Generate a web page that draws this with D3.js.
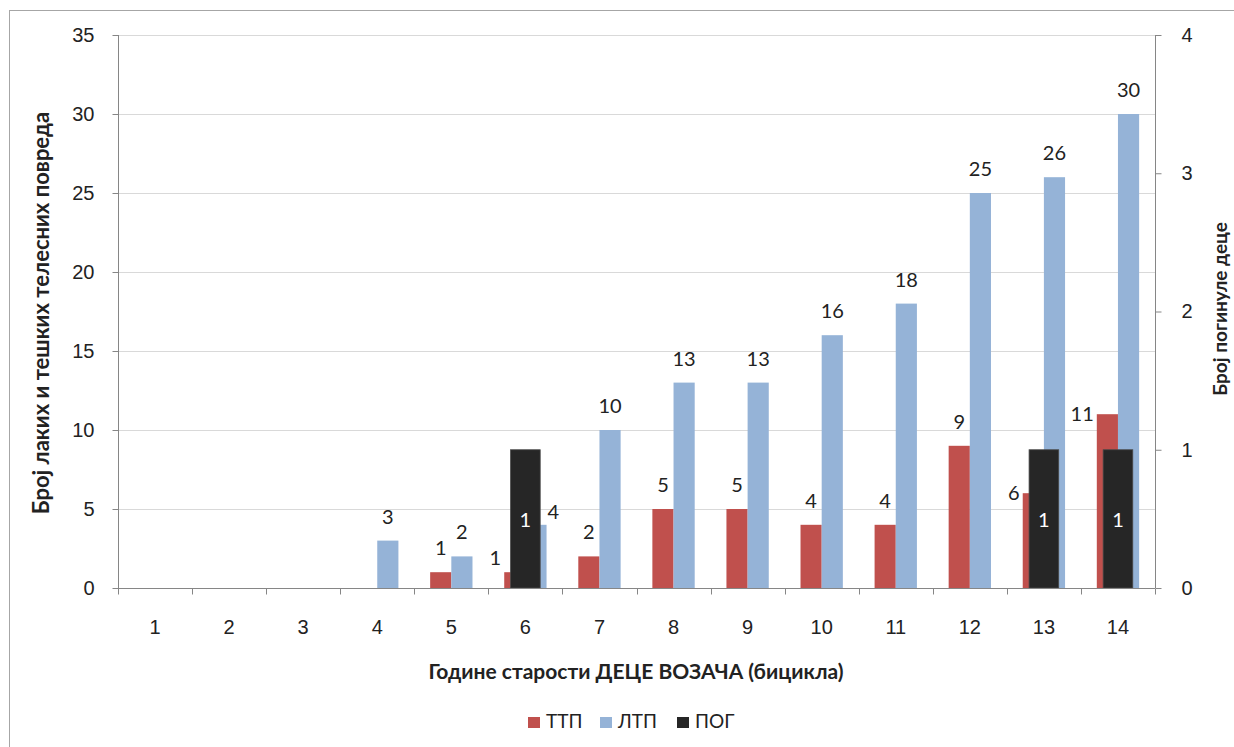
<!DOCTYPE html>
<html>
<head>
<meta charset="utf-8">
<script src="https://cdnjs.cloudflare.com/ajax/libs/d3/7.8.5/d3.min.js"></script>
<style>
  html, body { margin: 0; padding: 0; background: #fff; }
  svg { display: block; font-family: Lato, "Open Sans", "Liberation Sans", sans-serif; }
</style>
</head>
<body>
<svg id="chart" width="1234" height="747"></svg>
<script>
// Ages of child cyclists (x categories)
const ages = ["1","2","3","4","5","6","7","8","9","10","11","12","13","14"];
// ТТП – serious bodily injuries (primary axis)
const ttp = [0,0,0,0,1,1,2,5,5,4,4,9,6,11];
// ЛТП – light bodily injuries (primary axis)
const ltp = [0,0,0,3,2,4,10,13,13,16,18,25,26,30];
// ПОГ – killed children (secondary axis)
const pog = [0,0,0,0,0,1,0,0,0,0,0,0,1,1];
const leftTicks = [0,5,10,15,20,25,30,35];
const rightTicks = [0,1,2,3,4];

const colTTP = "#C0504D", colLTP = "#95B3D7", colPOG = "#262626";
const textCol = "#222222", axisCol = "#868686", gridCol = "#D9D9D9";
const numSize = 20;

const svg = d3.select("#chart");
const pLeft = 118, pRight = 1155, pTop = 35, pBottom = 588;

// chart frame
svg.append("rect").attr("x", 9.5).attr("y", 10.5).attr("width", 1240).attr("height", 750)
  .attr("fill", "#fff").attr("stroke", "#A6A6A6").attr("stroke-width", 1);

const x = d3.scaleBand().domain(ages).range([pLeft, pRight]).paddingInner(0).paddingOuter(0);
const yL = d3.scaleLinear().domain([0, 35]).range([pBottom, pTop]);
const yR = d3.scaleLinear().domain([0, 4]).range([pBottom, pTop]);

const band = x.bandwidth();
const pw = band / 3.5;      // primary bar width (gap 150%)
const sw = band / 2.5;      // secondary bar width

// gridlines
svg.append("g").selectAll("line").data(leftTicks.filter(d => d > 0)).join("line")
  .attr("x1", pLeft).attr("x2", pRight)
  .attr("y1", d => Math.round(yL(d)) + 0.5).attr("y2", d => Math.round(yL(d)) + 0.5)
  .attr("stroke", gridCol);

// primary bars
const g1 = svg.append("g");
g1.selectAll("rect.ttp").data(ages).join("rect").attr("class", "ttp")
  .attr("x", d => x(d) + band / 2 - pw).attr("width", pw)
  .attr("y", (d, i) => yL(ttp[i])).attr("height", (d, i) => pBottom - yL(ttp[i]))
  .attr("fill", colTTP);
g1.selectAll("rect.ltp").data(ages).join("rect").attr("class", "ltp")
  .attr("x", d => x(d) + band / 2).attr("width", pw)
  .attr("y", (d, i) => yL(ltp[i])).attr("height", (d, i) => pBottom - yL(ltp[i]))
  .attr("fill", colLTP);

// primary labels; where the black bar sits in the middle they move to the sides
const lab = svg.append("g").attr("font-size", numSize).attr("fill", textCol).attr("text-anchor", "middle");
ages.forEach((a, i) => {
  const cx = x(a) + band / 2;
  const crowded = pog[i] > 0;
  if (ttp[i] > 0) {
    const t = yL(ttp[i]);
    if (crowded) {
      lab.append("text").attr("x", cx - pw - 3).attr("y", Math.min(t, pBottom - 30) + 7)
        .attr("text-anchor", "end").text(ttp[i]);
    } else {
      lab.append("text").attr("x", cx - pw / 2).attr("y", t - 17).text(ttp[i]);
    }
  }
  if (ltp[i] > 0) {
    const t = yL(ltp[i]);
    if (crowded && yL(ltp[i]) > yR(pog[i])) {
      lab.append("text").attr("x", cx + pw + 1).attr("y", t - 6)
        .attr("text-anchor", "start").text(ltp[i]);
    } else {
      lab.append("text").attr("x", cx + pw / 2).attr("y", t - 17).text(ltp[i]);
    }
  }
});

// secondary bars
const g2 = svg.append("g");
g2.selectAll("rect").data(ages).join("rect")
  .attr("x", d => x(d) + band / 2 - sw / 2).attr("width", sw)
  .attr("y", (d, i) => yR(pog[i])).attr("height", (d, i) => pBottom - yR(pog[i]))
  .attr("fill", colPOG).attr("stroke", "#4a4a4a").attr("stroke-width", 0.8)
  .attr("display", (d, i) => pog[i] > 0 ? null : "none");
g2.selectAll("text").data(ages.filter((d, i) => pog[i] > 0)).join("text")
  .attr("x", d => x(d) + band / 2)
  .attr("y", d => (yR(pog[ages.indexOf(d)]) + pBottom) / 2 + 8)
  .attr("text-anchor", "middle").attr("fill", "#fff").attr("font-size", numSize)
  .text(d => pog[ages.indexOf(d)]);

// axes
const axL = svg.append("g").attr("transform", `translate(${pLeft + 0.5},0)`)
  .call(d3.axisLeft(yL).tickValues(leftTicks).tickSize(6).tickPadding(18).tickFormat(d3.format("d")));
const axR = svg.append("g").attr("transform", `translate(${pRight + 0.5},0)`)
  .call(d3.axisRight(yR).tickValues(rightTicks).tickSize(6).tickPadding(20).tickFormat(d3.format("d")));
const axX = svg.append("g").attr("transform", `translate(0,${pBottom + 0.5})`)
  .call(d3.axisBottom(x).tickSize(0).tickPadding(31));
// category separator ticks
axX.selectAll("line.sep").data(d3.range(ages.length + 1)).join("line")
  .attr("class", "sep")
  .attr("x1", i => Math.round(pLeft + i * band) + 0.5).attr("x2", i => Math.round(pLeft + i * band) + 0.5)
  .attr("y1", 0).attr("y2", 6).attr("stroke", axisCol);

[axL, axR, axX].forEach(a => {
  a.selectAll(".domain").attr("stroke", axisCol);
  a.selectAll(".tick line").attr("stroke", axisCol);
  a.selectAll("text").attr("font-size", numSize).attr("fill", textCol).attr("font-family", null);
});
axX.select(".domain").attr("d", `M${pLeft},0H${pRight}`);
axL.select(".domain").attr("d", `M0,${pTop}V${pBottom}`);
axR.select(".domain").attr("d", `M0,${pTop}V${pBottom}`);

// axis titles
svg.append("text").attr("transform", `translate(49,313) rotate(-90)`)
  .attr("text-anchor", "middle").attr("font-size", 22).attr("font-weight", 700).attr("fill", textCol)
  .text("Број лаких и тешких телесних повреда");
svg.append("text").attr("transform", `translate(1227,309) rotate(-90)`)
  .attr("text-anchor", "middle").attr("font-size", 19).attr("font-weight", 700).attr("fill", textCol)
  .text("Број погинуле деце");
svg.append("text").attr("x", 636).attr("y", 679)
  .attr("text-anchor", "middle").attr("font-size", 21).attr("font-weight", 700).attr("fill", textCol)
  .text("Године старости ДЕЦЕ ВОЗАЧА (бицикла)");

// legend
const legend = [["ТТП", colTTP], ["ЛТП", colLTP], ["ПОГ", colPOG]];
const lg = svg.append("g").attr("transform", "translate(528,728)");
const lx = [0, 72, 149];
legend.forEach((d, i) => {
  lg.append("rect").attr("x", lx[i]).attr("y", -11).attr("width", 12).attr("height", 11).attr("fill", d[1]);
  lg.append("text").attr("x", lx[i] + 18).attr("y", 0).attr("font-size", 19).attr("fill", textCol).text(d[0]);
});
</script>
</body>
</html>
